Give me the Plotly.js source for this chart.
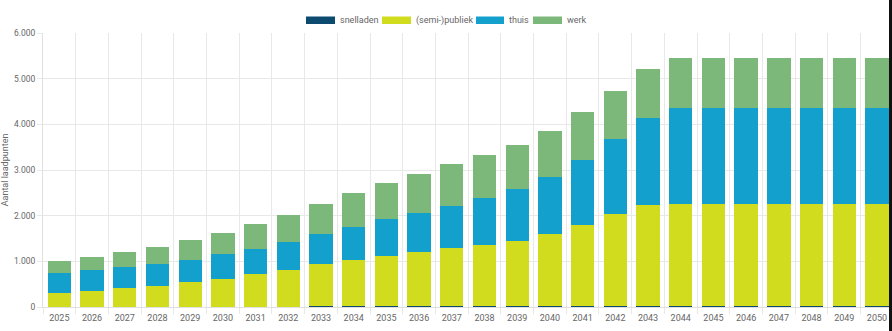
<!DOCTYPE html>
<html>
<head>
<meta charset="utf-8">
<script src="https://cdn.plot.ly/plotly-3.0.1.min.js"></script>
<style>
html,body{margin:0;padding:0;background:#fff;overflow:hidden;}
#chart{width:892px;height:331px;}
#edge{position:absolute;right:0;top:0;width:3px;height:331px;background:#111;}
</style>
</head>
<body>
<div id="chart"></div>
<div id="edge"></div>
<script>
const years = ["2025","2026","2027","2028","2029","2030","2031","2032","2033","2034","2035","2036","2037","2038","2039","2040","2041","2042","2043","2044","2045","2046","2047","2048","2049","2050"];
const snelladen = [4,5,6,7,8,9,10,11,12,14,15,16,18,19,21,22,24,26,28,30,30,30,30,30,30,30];
const publiek = [296,352,403,460,539,611,706,804,922,1015,1109,1188,1274,1346,1431,1576,1771,2004,2213,2218,2218,2218,2218,2218,2218,2218];
const thuis = [440,446,460,482,482,533,561,608,664,730,796,862,927,1022,1125,1255,1430,1656,1897,2117,2117,2117,2117,2117,2117,2117];
const werk = [260,285,328,372,431,460,533,591,664,730,788,853,905,941,977,1008,1038,1051,1066,1093,1093,1093,1093,1093,1093,1093];
const seriesNames = ["snelladen","(semi-)publiek","thuis","werk"];
const seriesColors = ["#0d4a70","#d2dc1e","#14a0cc","#7db87b"];
const seriesData = [snelladen, publiek, thuis, werk];

const traces = seriesData.map((d,i)=>({
  type:"bar", x:years, y:d, name:seriesNames[i],
  marker:{color:seriesColors[i], line:{width:0}},
  showlegend:false, hoverinfo:"x+y+name"
}));

// plot area geometry in pixels
const L=43, T=33, W=892-43, H=274;
const px=(x)=>(x-L)/W, py=(y)=>(T+H-y)/H;

const legend = [
  {x0:306,x1:335,tx:339},
  {x0:382,x1:411,tx:415},
  {x0:476,x1:504,tx:508},
  {x0:533,x1:562,tx:566}
];
const shapes = legend.map((g,i)=>({
  type:"rect", xref:"paper", yref:"paper",
  x0:px(g.x0), x1:px(g.x1), y0:py(24), y1:py(16.5),
  fillcolor:seriesColors[i], line:{width:0}
}));
const annotations = legend.map((g,i)=>({
  xref:"paper", yref:"paper", x:px(g.tx), y:py(20.5),
  xanchor:"left", yanchor:"middle", showarrow:false,
  text:seriesNames[i], borderpad:0,
  font:{family:"Roboto, Arial, sans-serif", size:9, color:"#666"}
}));

const layout = {
  width:892, height:331,
  margin:{l:L, r:0, t:T, b:24, pad:0},
  paper_bgcolor:"#fff", plot_bgcolor:"#fff",
  barmode:"stack", bargap:0.287,
  separators:",.",
  font:{family:"Roboto, Arial, sans-serif", size:9, color:"#666"},
  showlegend:false,
  xaxis:{
    type:"category", range:[-0.5,25.46],
    tickson:"boundaries", showgrid:true, gridcolor:"#e8e8e8", gridwidth:1,
    ticks:"outside", ticklen:6, tickcolor:"#e8e8e8",
    showline:true, linecolor:"#e0e0e0", linewidth:1,
    tickfont:{size:9, color:"#666"}, ticklabelstandoff:2, fixedrange:true
  },
  yaxis:{
    range:[0,6000], dtick:1000, tick0:0,
    tickformat:",.0f", separatethousands:true,
    showgrid:true, gridcolor:"#e8e8e8", gridwidth:1,
    ticks:"outside", ticklen:5, tickcolor:"#e8e8e8",
    showline:true, linecolor:"#e0e0e0", linewidth:1, zeroline:false,
    tickfont:{size:8.5, color:"#666"},
    title:{text:"Aantal laadpunten", font:{size:9, color:"#666"}, standoff:4},
    automargin:false, fixedrange:true
  },
  shapes:shapes, annotations:annotations
};

Plotly.newPlot("chart", traces, layout, {displayModeBar:false, staticPlot:true});
</script>
</body>
</html>
